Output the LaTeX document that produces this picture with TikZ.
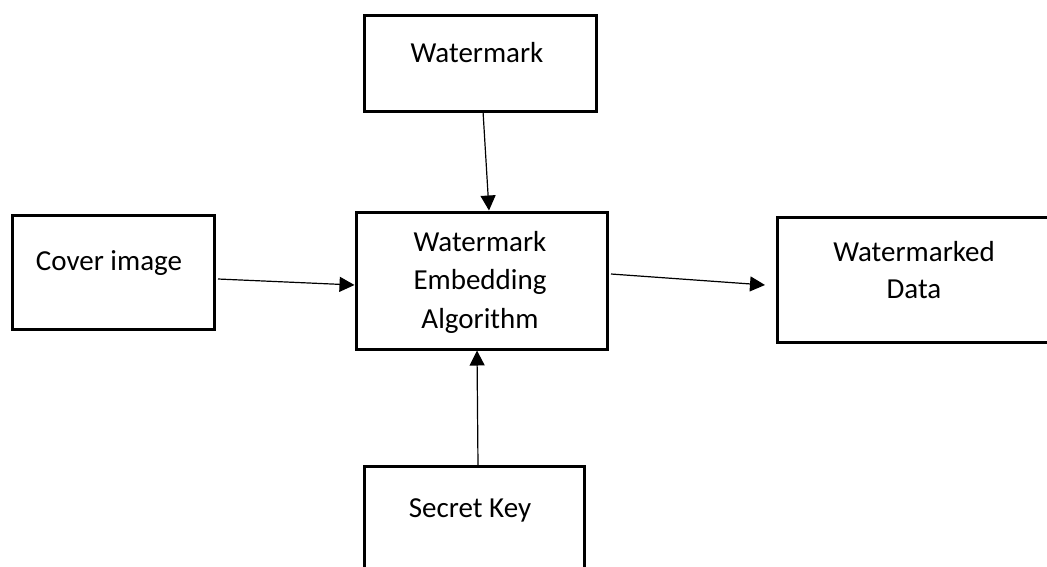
\documentclass[tikz,border=0pt]{standalone}
\usepackage{fontspec}
\setmainfont{Carlito}
\usetikzlibrary{arrows.meta}
\begin{document}
\begin{tikzpicture}[x=1pt,y=-1pt,
  blk/.style={draw=black,line width=3pt,inner sep=0pt,outer sep=0pt,rectangle},
  txt/.style={font=\fontsize{29}{37}\selectfont,inner sep=0pt,align=center},
  conn/.style={line width=1.2pt,-{Triangle[length=15pt,width=15pt]}}]
\useasboundingbox (0,0) rectangle (1047,566);
\node[blk,minimum width=232pt,minimum height=96pt] (wm) at (480,63) {};
\node[blk,minimum width=202pt,minimum height=114pt] (cover) at (113,272) {};
\node[blk,minimum width=251pt,minimum height=137pt] (emb) at (481.5,280.5) {};
\node[blk,minimum width=288pt,minimum height=125pt] (out) at (921,279.5) {};
\node[blk,minimum width=220pt,minimum height=134pt] (key) at (474,533) {};
\node[txt] (wmt) at (477,53) {Watermark};
\node[txt] (covert) at (109,263) {Cover image};
\node[txt,font=\fontsize{29}{38.5}\selectfont] (embt) at (480,282) {Watermark\\Embedding\\Algorithm};
\node[txt] (outt) at (914,270) {Watermarked\\Data};
\node[txt] (keyt) at (470,510) {Secret Key};
\draw[conn] ([xshift=3pt]wm.south) -- ([xshift=7.5pt,yshift=1.5pt]emb.north);
\draw[conn] ([xshift=4pt,yshift=-7pt]cover.east) -- ([xshift=-1.5pt,yshift=-4.5pt]emb.west);
\draw[conn] ([xshift=4pt,yshift=6.5pt]emb.east) -- ([xshift=-12pt,yshift=-5.5pt]out.west);
\draw[conn] ([xshift=4pt]key.north) -- ([xshift=-4.5pt,yshift=-1.5pt]emb.south);
\end{tikzpicture}
\end{document}
